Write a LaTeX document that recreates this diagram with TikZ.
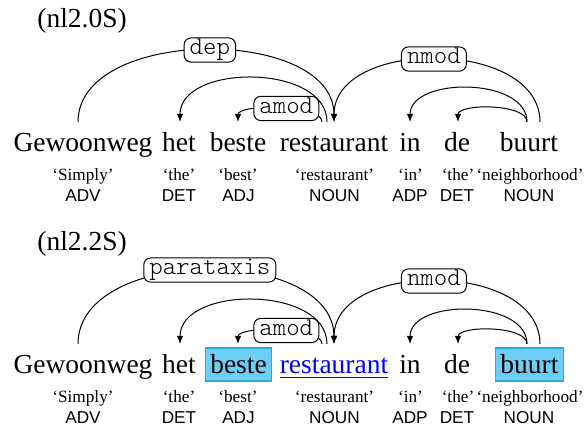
\documentclass[tikz,border=0pt]{standalone}
\usepackage{fontspec}
\setmainfont{Liberation Serif}
\setsansfont{Liberation Sans}
\usetikzlibrary{arrows.meta}
\definecolor{hlfill}{RGB}{109,207,246}
\definecolor{hldraw}{RGB}{41,171,226}
\definecolor{linkblue}{RGB}{0,0,255}
\newcommand\wordfont{\fontsize{13.75}{16}\selectfont}
\newcommand\glossfont{\fontsize{8.6}{10}\selectfont}
\newcommand\postagfont{\sffamily\fontsize{8.6}{10}\selectfont}
\newcommand\lblfont{\ttfamily\fontseries{l}\fontsize{12.8}{14}\selectfont}
\tikzset{
  ttl/.style={font=\wordfont, anchor=base west, inner sep=0pt},
  word/.style={font=\wordfont, anchor=base, inner xsep=2.5pt, inner ysep=1.5pt, text height=11.5pt, text depth=2pt},
  hilite/.style={fill=hlfill, draw=hldraw, line width=0.6pt},
  gloss/.style={font=\glossfont, anchor=base, inner sep=0pt},
  postag/.style={font=\postagfont, anchor=base, inner sep=0pt},
  dline/.style={line width=0.5pt},
  darrow/.style={dline, -{Latex[length=4pt,width=3.2pt]}},
  lbl/.style={draw, fill=white, rounded corners=3.5pt, font=\lblfont, inner xsep=2.8pt, inner ysep=1pt, text height=7.5pt, text depth=2.6pt, line width=0.5pt},
}
\begin{document}
\begin{tikzpicture}[x=0.5pt,y=-0.5pt]
\useasboundingbox (0,0) rectangle (584,432);

% ---------------- top sentence ----------------
\node[ttl] (tA) at (37,28) {(nl2.0S)};
\node[word] (w1A) at (83,152) {Gewoonweg};
\node[word] (w2A) at (179,152) {het};
\node[word] (w3A) at (238,152) {beste};
\node[word] (w4A) at (334,152) {restaurant};
\node[word] (w5A) at (410,152) {in};
\node[word] (w6A) at (457,152) {de};
\node[word] (w7A) at (529,152) {buurt};

\node[gloss] (g1A) at (83,181) {‘Simply’};
\node[gloss] (g2A) at (179,181) {‘the’};
\node[gloss] (g3A) at (238,181) {‘best’};
\node[gloss] (g4A) at (334.5,181) {‘restaurant’};
\node[gloss] (g5A) at (410.5,181) {‘in’};
\node[gloss] (g6A) at (458,181) {‘the’};
\node[gloss] (g7A) at (530,181) {‘neighborhood’};

\node[postag] (p1A) at (83,202) {ADV};
\node[postag] (p2A) at (179,202) {DET};
\node[postag] (p3A) at (238.5,202) {ADJ};
\node[postag] (p4A) at (334.5,202) {NOUN};
\node[postag] (p5A) at (410,202) {ADP};
\node[postag] (p6A) at (457,202) {DET};
\node[postag] (p7A) at (529,202) {NOUN};

\coordinate (s1A) at (78,122);
\coordinate (s4amodA) at (322,122);
\coordinate (s4detA) at (327,122);
\coordinate (e4A) at (334,122);
\coordinate (e2A) at (180,122);
\coordinate (e3A) at (238,122);
\coordinate (e5A) at (410,122);
\coordinate (e6A) at (458,122);
\coordinate (s7nA) at (540,122);
\coordinate (s7A) at (527,122);

\draw[darrow] (s4detA) .. controls +(0,-58.7) and +(0,-58.7) .. (e2A);
\draw[darrow] (s4amodA) .. controls +(0,-18.2) and +(0,-18.2) .. (e3A) node[lbl,pos=0.45] (l2A) {amod};
\draw[darrow] (s1A) .. controls +(0,-96) and +(0,-96) .. (e4A) node[lbl,pos=0.51] (l1A) {dep};
\draw[darrow] (s7nA) .. controls +(0,-84) and +(0,-84) .. (e4A) node[lbl,pos=0.51] (l3A) {nmod};
\draw[darrow] (s7A) .. controls +(0,-45.3) and +(0,-45.3) .. (e5A);
\draw[darrow] (s7A) .. controls +(0,-18.7) and +(0,-18.7) .. (e6A);

% ---------------- bottom sentence ----------------
\node[ttl] (tB) at (37,251) {(nl2.2S)};
\node[word] (w1B) at (83,374) {Gewoonweg};
\node[word] (w2B) at (179,374) {het};
\node[word, hilite] (w3B) at (238.5,374) {beste};
\node[word, text=linkblue] (w4B) at (334,374) {\underline{restaurant}};
\node[word] (w5B) at (410,374) {in};
\node[word] (w6B) at (457,374) {de};
\node[word, hilite] (w7B) at (529.5,374) {buurt};

\node[gloss] (g1B) at (83,403) {‘Simply’};
\node[gloss] (g2B) at (179,403) {‘the’};
\node[gloss] (g3B) at (238,403) {‘best’};
\node[gloss] (g4B) at (334.5,403) {‘restaurant’};
\node[gloss] (g5B) at (410.5,403) {‘in’};
\node[gloss] (g6B) at (458,403) {‘the’};
\node[gloss] (g7B) at (530,403) {‘neighborhood’};

\node[postag] (p1B) at (83,424) {ADV};
\node[postag] (p2B) at (179,424) {DET};
\node[postag] (p3B) at (238.5,424) {ADJ};
\node[postag] (p4B) at (334.5,424) {NOUN};
\node[postag] (p5B) at (410,424) {ADP};
\node[postag] (p6B) at (457,424) {DET};
\node[postag] (p7B) at (529,424) {NOUN};

\coordinate (s1B) at (78,344);
\coordinate (s4amodB) at (322,344);
\coordinate (s4detB) at (327,344);
\coordinate (e4B) at (334,344);
\coordinate (e2B) at (180,344);
\coordinate (e3B) at (238,344);
\coordinate (e5B) at (410,344);
\coordinate (e6B) at (458,344);
\coordinate (s7nB) at (540,344);
\coordinate (s7B) at (527,344);

\draw[darrow] (s4detB) .. controls +(0,-58.7) and +(0,-58.7) .. (e2B);
\draw[darrow] (s4amodB) .. controls +(0,-18.2) and +(0,-18.2) .. (e3B) node[lbl,pos=0.45] (l2B) {amod};
\draw[darrow] (s1B) .. controls +(0,-98.7) and +(0,-98.7) .. (e4B) node[lbl,pos=0.51] (l1B) {parataxis};
\draw[darrow] (s7nB) .. controls +(0,-84) and +(0,-84) .. (e4B) node[lbl,pos=0.51] (l3B) {nmod};
\draw[darrow] (s7B) .. controls +(0,-45.3) and +(0,-45.3) .. (e5B);
\draw[darrow] (s7B) .. controls +(0,-18.7) and +(0,-18.7) .. (e6B);
\end{tikzpicture}
\end{document}
